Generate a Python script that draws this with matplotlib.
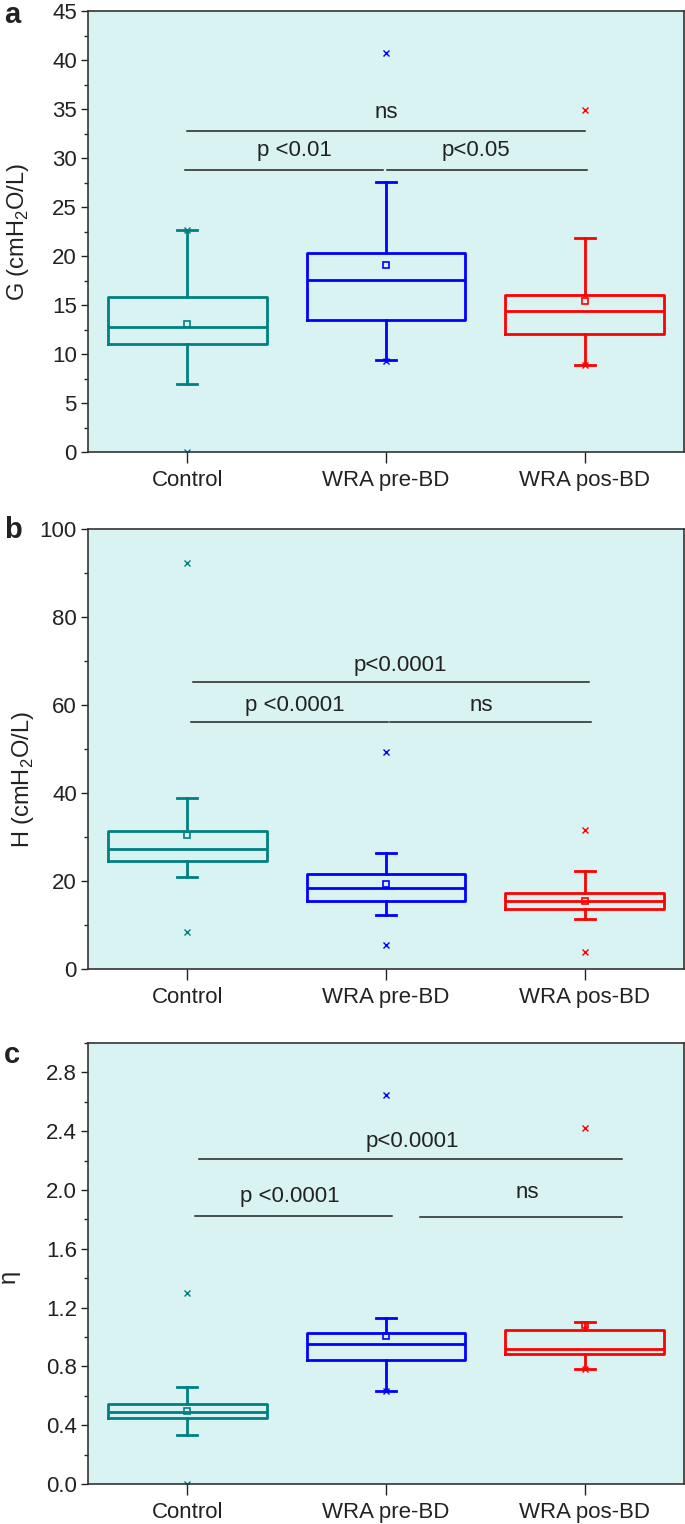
import numpy as np
import matplotlib
matplotlib.use("Agg")
import matplotlib.pyplot as plt
from matplotlib.ticker import MultipleLocator, FormatStrFormatter

plt.rcParams['font.family'] = ['Liberation Sans', 'DejaVu Sans']
plt.rcParams['mathtext.fontset'] = 'custom'
plt.rcParams['mathtext.rm'] = 'Liberation Sans'

groups = ["Control", "WRA pre-BD", "WRA pos-BD"]
colors = ["#008080", "#0000ff", "#ff0000"]

# panel a: G
g_lo = [6.9, 9.4, 8.9]
g_q1 = [11.0, 13.5, 12.0]
g_med = [12.8, 17.6, 14.4]
g_q3 = [15.8, 20.3, 16.0]
g_hi = [22.7, 27.6, 21.8]
g_mean = [13.1, 19.1, 15.4]
g_out = [[0.0, 22.7], [9.3, 40.7], [8.9, 34.9]]

# panel b: H
h_lo = [20.8, 12.3, 11.4]
h_q1 = [24.6, 15.5, 13.6]
h_med = [27.3, 18.5, 15.5]
h_q3 = [31.4, 21.7, 17.2]
h_hi = [38.9, 26.4, 22.3]
h_mean = [30.4, 19.3, 15.5]
h_out = [[8.3, 92.3], [5.4, 49.3], [3.8, 31.7]]

# panel c: eta
e_lo = [0.336, 0.636, 0.783]
e_q1 = [0.45, 0.845, 0.883]
e_med = [0.49, 0.952, 0.918]
e_q3 = [0.547, 1.024, 1.047]
e_hi = [0.661, 1.126, 1.099]
e_mean = [0.495, 1.008, 1.081]
e_out = [[0.0, 1.299], [0.636, 2.643], [0.783, 2.423]]

# significance bars: (x0, x1, y, label, label_x, label_y)
g_sig = [(0.99, 1.985, 28.8, "p <0.01", 1.54, 30.8),
         (2.005, 3.01, 28.8, "p<0.05", 2.45, 30.8),
         (1.0, 3.0, 32.75, "ns", 2.0, 34.6)]
h_sig = [(1.02, 2.01, 56.1, "p <0.0001", 1.54, 59.9),
         (2.02, 3.03, 56.1, "ns", 2.48, 59.9),
         (1.03, 3.02, 65.2, "p<0.0001", 2.07, 69.0)]
e_sig = [(1.04, 2.03, 1.826, "p <0.0001", 1.515, 1.955),
         (2.17, 3.19, 1.817, "ns", 2.71, 1.98),
         (1.06, 3.19, 2.21, "p<0.0001", 2.13, 2.33)]

fig = plt.figure(figsize=(6.85, 15.24), dpi=100)
bg = "#d9f2f2"
txt = "#222222"
fs = 16


def panel(rect, lo, q1, med, q3, hi, mean, out, sig, ylim, major, minor,
          ylabel, lab_x, lab_y, letter, letter_y):
    ax = fig.add_axes(rect)
    ax.set_facecolor(bg)
    stats = []
    for i in range(3):
        stats.append(dict(whislo=lo[i], q1=q1[i], med=med[i], q3=q3[i], whishi=hi[i],
                          mean=mean[i], fliers=out[i]))
    art = ax.bxp(stats, positions=[1, 2, 3], widths=0.8, capwidths=0.1,
                 showmeans=True, showfliers=True)
    for i, c in enumerate(colors):
        art['boxes'][i].set(color=c, linewidth=2)
        art['medians'][i].set(color=c, linewidth=2)
        for w in art['whiskers'][2 * i:2 * i + 2]:
            w.set(color=c, linewidth=2)
        for cp in art['caps'][2 * i:2 * i + 2]:
            cp.set(color=c, linewidth=2)
        art['means'][i].set(marker='s', markersize=4, markerfacecolor='none',
                            markeredgecolor=c, markeredgewidth=1.2)
        art['fliers'][i].set(marker='x', markersize=4, markeredgecolor=c,
                             markeredgewidth=1)
    for x0, x1, y, lab, lx, ly in sig:
        ax.plot([x0, x1], [y, y], color=txt, lw=1.1)
        ax.text(lx, ly, lab, ha='center', va='center', fontsize=fs, color=txt)
    ax.set_xlim(0.5, 3.5)
    ax.set_ylim(*ylim)
    ax.yaxis.set_major_locator(MultipleLocator(major))
    ax.yaxis.set_minor_locator(MultipleLocator(minor))
    ax.set_xticks([1, 2, 3])
    ax.set_xticklabels(groups, fontsize=fs, color=txt)
    ax.tick_params(axis='y', which='major', direction='out', length=5, width=1,
                   labelsize=fs, labelcolor=txt, colors=txt, pad=3)
    ax.tick_params(axis='y', which='minor', direction='out', length=3, width=1, colors=txt)
    ax.tick_params(axis='x', which='major', direction='out', length=8, width=1,
                   pad=5, colors=txt)
    for s in ax.spines.values():
        s.set_color("#333333")
        s.set_linewidth(1.2)
    ax.set_ylabel(ylabel, fontsize=17, color=txt)
    ax.yaxis.set_label_coords(lab_x, lab_y)
    fig.text(0.006, letter_y, letter, fontsize=21, fontweight='bold', va='center', color=txt)
    return ax


W, H = 685.0, 1524.0
left = 88 / W
width = 596 / W
panel([left, 1 - 452 / H, width, 441 / H], g_lo, g_q1, g_med, g_q3, g_hi, g_mean, g_out,
      g_sig, (0, 45), 5, 2.5, r"G (cmH$_\mathregular{2}$O/L)", -0.095, 0.5, "a", 1 - 15 / H)
panel([left, 1 - 969 / H, width, 440 / H], h_lo, h_q1, h_med, h_q3, h_hi, h_mean, h_out,
      h_sig, (0, 100), 20, 10, r"H (cmH$_\mathregular{2}$O/L)", -0.088, 0.43, "b", 1 - 530 / H)
ax3 = panel([left, 1 - 1484 / H, width, 441 / H], e_lo, e_q1, e_med, e_q3, e_hi, e_mean, e_out,
            e_sig, (0, 3.0), 0.4, 0.2, "η", -0.115, 0.47, "c", 1 - 1055 / H)
ax3.yaxis.set_major_formatter(FormatStrFormatter('%.1f'))

fig.savefig("out.png", dpi=100, facecolor='white')
